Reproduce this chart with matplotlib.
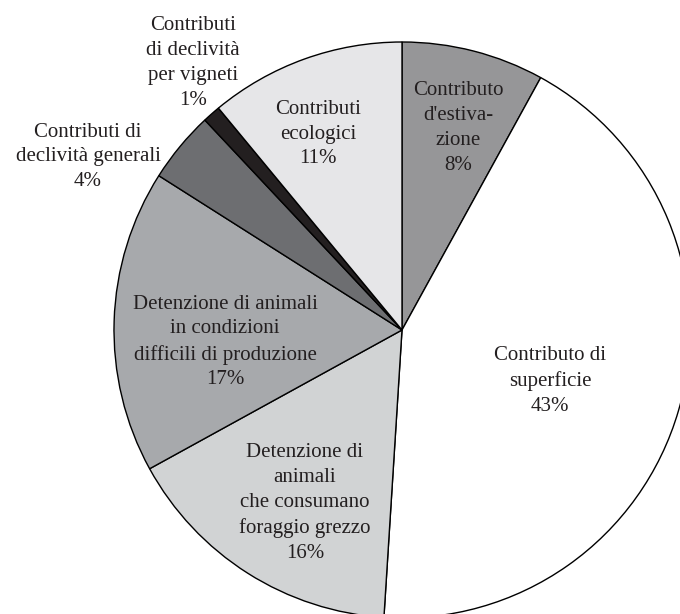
import matplotlib
matplotlib.use("Agg")
import matplotlib.pyplot as plt

# Share of payments (%), clockwise from the top
labels = ["Contributo\nd'estiva-\nzione",
          "Contributo di\nsuperficie",
          "Detenzione di\nanimali\nche consumano\nforaggio grezzo",
          "Detenzione di animali\nin condizioni\ndifficili di produzione",
          "Contributi di\ndeclività generali",
          "Contributi\ndi declività\nper vigneti",
          "Contributi\necologici"]
shares = [8, 43, 16, 17, 4, 1, 11]
colors = ["#969698", "#ffffff", "#d1d3d4", "#a7a9ac", "#6d6e71", "#231f20", "#e6e6e8"]

# label positions in pixel space (y from top)
label_pos = [(458, 128), (550, 381), (305, 503), (225, 342),
             (88, 157), (193, 63), (318, 134)]

W, H = 680, 614
plt.rcParams['font.family'] = ['Liberation Serif', 'DejaVu Serif']

fig = plt.figure(figsize=(W / 100, H / 100), dpi=100)
ax = fig.add_axes([0, 0, 1, 1])

ax.pie(shares, colors=colors, startangle=90, counterclock=False,
       center=(402, H - 330), radius=288, frame=True,
       wedgeprops=dict(edgecolor='black', linewidth=1.0))
ax.set_xlim(0, W)
ax.set_ylim(0, H)
ax.set_aspect('equal')
ax.axis('off')

for lab, val, (x, y) in zip(labels, shares, label_pos):
    ax.text(x, H - y, f"{lab}\n{val}%", ha='center', va='center',
            fontsize=15, linespacing=1.42, color='#231f20')

fig.savefig("out.png", dpi=100)
